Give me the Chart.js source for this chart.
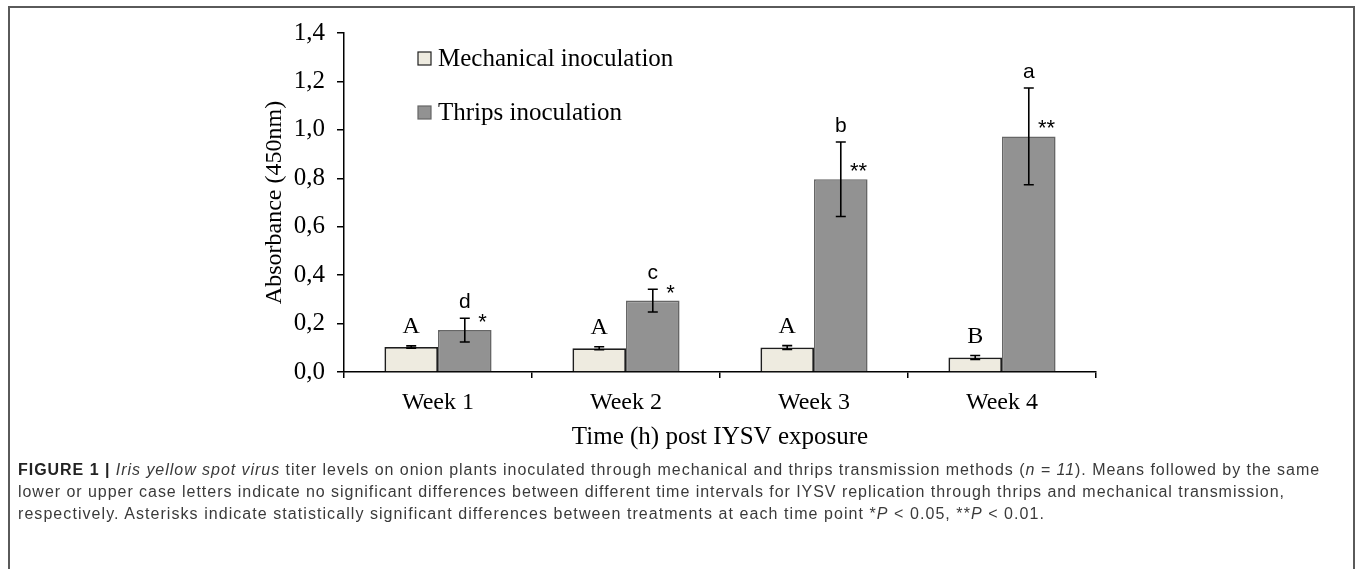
<!DOCTYPE html>
<html>
<head>
<meta charset="utf-8">
<script src="https://cdn.jsdelivr.net/npm/chart.js@4.4.1/dist/chart.umd.min.js"></script>
<style>
  html, body { margin:0; padding:0; background:#fff; width:1357px; height:569px; overflow:hidden; }
  #frame { position:absolute; left:8px; top:6px; width:1347px; height:600px; border:2px solid #5a5a5a; box-sizing:border-box; }
  #wrap { position:absolute; left:0; top:0; width:1357px; height:460px; }
  #caption { position:absolute; left:18px; top:459px; width:1335px; font-family:"Liberation Sans",Arial,sans-serif; font-size:16px; line-height:22px; color:#3a3a3a; }
  #caption div { white-space:nowrap; }
  #caption span.line { display:inline-block; }
  #caption b { font-weight:bold; color:#222; }
</style>
</head>
<body>
<div id="frame"></div>
<div id="wrap"><canvas id="c" width="1357" height="460"></canvas></div>
<div id="caption">
  <div><span class="line"><b>FIGURE 1 |</b> <i>Iris yellow spot virus</i> titer levels on onion plants inoculated through mechanical and thrips transmission methods (<i>n = 11</i>). Means followed by the same</span></div>
  <div><span class="line">lower or upper case letters indicate no significant differences between different time intervals for IYSV replication through thrips and mechanical transmission,</span></div>
  <div><span class="line">respectively. Asterisks indicate statistically significant differences between treatments at each time point *<i>P</i> &lt; 0.05, **<i>P</i> &lt; 0.01.</span></div>
</div>
<script>
const categories = ['Week 1', 'Week 2', 'Week 3', 'Week 4'];
const seriesNames = ['Mechanical inoculation', 'Thrips inoculation'];
const mechanical = [0.103, 0.098, 0.101, 0.060];
const mechanicalErr = [0.005, 0.006, 0.008, 0.008];
const thrips = [0.173, 0.295, 0.796, 0.973];
const thripsErr = [0.049, 0.047, 0.154, 0.200];
const mechLetters = ['A', 'A', 'A', 'B'];
const thripsLetters = ['d', 'c', 'b', 'a'];
const stars = ['*', '*', '**', '**'];
const yMin = 0, yMax = 1.4, yStep = 0.2;
const yTitle = 'Absorbance (450nm)';
const xTitle = 'Time (h) post IYSV exposure';

// fit caption lines to the reference line lengths
const captionWidths = [1302, 1267, 1027];
document.querySelectorAll('#caption span.line').forEach((s, i) => {
  const w = s.getBoundingClientRect().width;
  const n = s.textContent.length;
  s.style.letterSpacing = ((captionWidths[i] - w) / n).toFixed(3) + 'px';
});

const SERIF = '"Liberation Serif", "Times New Roman", serif';
const SANS = '"Liberation Sans", Arial, sans-serif';
const colors = { mech: '#eeebe0', mechBorder: '#1e1e1e', thrips: '#929292', thripsBorder: '#666666' };
const errs = [mechanicalErr, thripsErr];

const overlay = {
  id: 'overlay',
  afterDatasetsDraw(chart) {
    const ctx = chart.ctx;
    const y = chart.scales.y;
    ctx.save();
    chart.data.datasets.forEach((ds, di) => {
      const meta = chart.getDatasetMeta(di);
      meta.data.forEach((el, i) => {
        const v = ds.data[i], e = errs[di][i];
        const yt = y.getPixelForValue(v + e), yb = y.getPixelForValue(v - e);
        ctx.strokeStyle = '#000'; ctx.lineWidth = 1.6;
        ctx.beginPath();
        ctx.moveTo(el.x, yt); ctx.lineTo(el.x, yb);
        ctx.moveTo(el.x - 5, yt); ctx.lineTo(el.x + 5, yt);
        ctx.moveTo(el.x - 5, yb); ctx.lineTo(el.x + 5, yb);
        ctx.stroke();
        ctx.fillStyle = '#000';
        ctx.textAlign = 'center'; ctx.textBaseline = 'alphabetic';
        if (di === 0) {
          ctx.font = '24px ' + SERIF;
          ctx.fillText(mechLetters[i], el.x, yt - 13);
        } else {
          ctx.font = '21px ' + SANS;
          ctx.fillText(thripsLetters[i], el.x, yt - 10);
          ctx.font = '22px ' + SANS;
          ctx.textBaseline = 'middle';
          ctx.fillText(stars[i], el.x + el.width / 2 - 9, el.y - 7);
        }
      });
    });
    // legend
    const a = chart.chartArea;
    const lx = a.left + 74;
    const rows = [a.top + 25, a.top + 79];
    const fills = [colors.mech, colors.thrips];
    const borders = [colors.mechBorder, colors.thripsBorder];
    seriesNames.forEach((n, k) => {
      ctx.fillStyle = fills[k];
      ctx.fillRect(lx, rows[k] - 6, 13, 13);
      ctx.strokeStyle = borders[k]; ctx.lineWidth = 1.2;
      ctx.strokeRect(lx, rows[k] - 6, 13, 13);
      ctx.fillStyle = '#000';
      ctx.font = '25px ' + SERIF;
      ctx.textAlign = 'left'; ctx.textBaseline = 'middle';
      ctx.fillText(n, lx + 20, rows[k] + 1);
    });
    ctx.restore();
  }
};

new Chart(document.getElementById('c'), {
  type: 'bar',
  data: {
    labels: categories,
    datasets: [
      { label: seriesNames[0], data: mechanical, backgroundColor: colors.mech, borderColor: colors.mechBorder, borderWidth: 1.8 },
      { label: seriesNames[1], data: thrips, backgroundColor: colors.thrips, borderColor: colors.thripsBorder, borderWidth: 1.6 }
    ]
  },
  options: {
    responsive: false,
    animation: false,
    events: [],
    layout: { padding: { left: 250, right: 261, top: 33, bottom: 8 } },
    datasets: { bar: { categoryPercentage: 0.57, barPercentage: 1.0 } },
    plugins: { legend: { display: false }, tooltip: { enabled: false } },
    scales: {
      x: {
        afterFit(s) { s.height = 80; },
        grid: { display: true, drawOnChartArea: false, drawTicks: true, tickLength: 6, color: '#000', lineWidth: 1.5, offset: true },
        border: { display: true, color: '#000', width: 1.5 },
        ticks: { color: '#000', font: { family: SERIF, size: 24 }, padding: 10 },
        title: { display: true, text: xTitle, color: '#000', font: { family: SERIF, size: 25 }, padding: { top: 1, bottom: 0 } }
      },
      y: {
        min: yMin, max: yMax,
        afterFit(s) { s.width = 94; },
        grid: { display: true, drawOnChartArea: false, drawTicks: true, tickLength: 7, color: '#000', lineWidth: 1.5 },
        border: { display: true, color: '#000', width: 1.5 },
        ticks: { stepSize: yStep, color: '#000', font: { family: SERIF, size: 25 }, padding: 12,
                 callback: (v) => v.toFixed(1).replace('.', ',') },
        title: { display: true, text: yTitle, color: '#000', font: { family: SERIF, size: 24 }, padding: { top: 10, bottom: 0 } }
      }
    }
  },
  plugins: [overlay]
});
</script>
</body>
</html>
